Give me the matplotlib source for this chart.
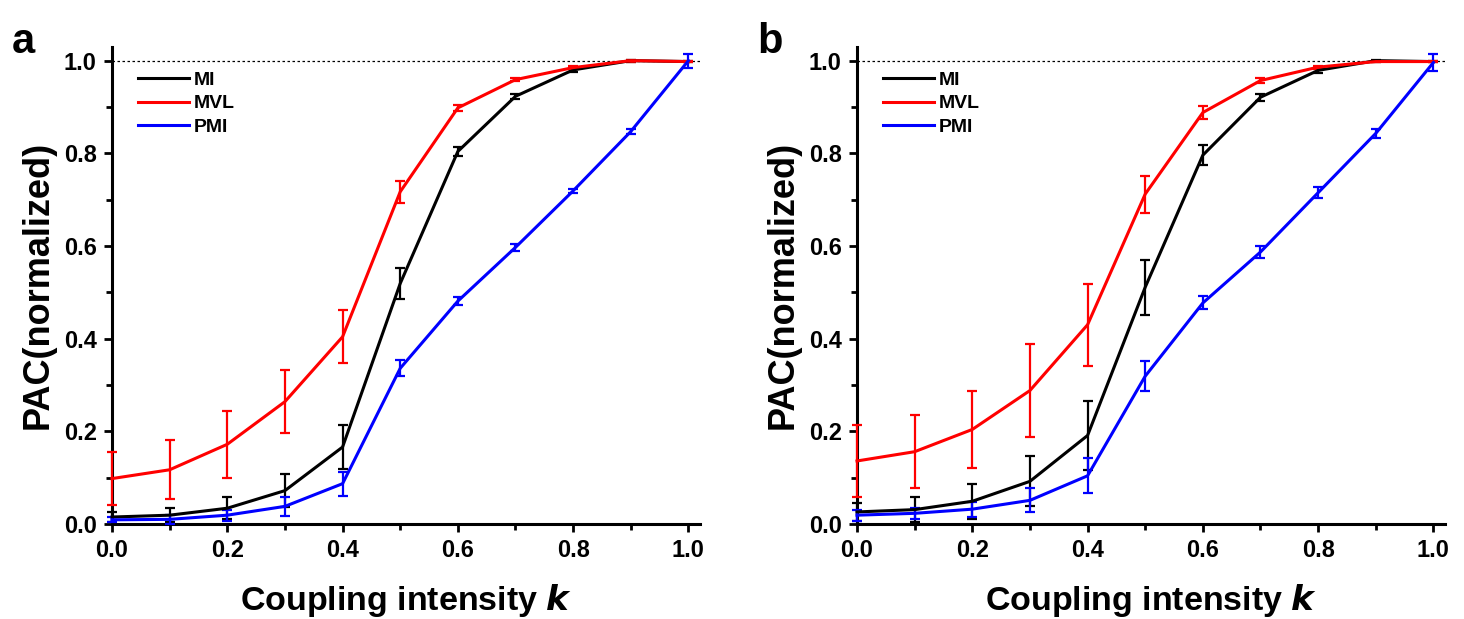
import numpy as np
import matplotlib
matplotlib.use("Agg")
import matplotlib.pyplot as plt
from matplotlib.lines import Line2D
from matplotlib.ticker import MultipleLocator

plt.rcParams['font.family'] = ['Liberation Sans', 'DejaVu Sans']
plt.rcParams['font.weight'] = 'bold'

# coupling intensity
k = [0.0, 0.1, 0.2, 0.3, 0.4, 0.5, 0.6, 0.7, 0.8, 0.9, 1.0]

# panel a
mi_a = [0.015, 0.019, 0.034, 0.072, 0.166, 0.519, 0.804, 0.923, 0.980, 1.000, 0.998]
mi_a_err = [0.010, 0.015, 0.024, 0.036, 0.048, 0.034, 0.010, 0.005, 0.005, 0.002, 0.002]
mvl_a = [0.098, 0.117, 0.172, 0.264, 0.404, 0.717, 0.898, 0.959, 0.985, 1.000, 0.998]
mvl_a_err = [0.057, 0.064, 0.072, 0.068, 0.057, 0.024, 0.007, 0.004, 0.003, 0.002, 0.002]
pmi_a = [0.009, 0.010, 0.019, 0.038, 0.087, 0.336, 0.481, 0.597, 0.719, 0.847, 1.000]
pmi_a_err = [0.005, 0.010, 0.012, 0.020, 0.026, 0.017, 0.008, 0.007, 0.005, 0.006, 0.015]

# panel b
mi_b = [0.026, 0.031, 0.049, 0.092, 0.191, 0.511, 0.796, 0.921, 0.979, 1.000, 0.998]
mi_b_err = [0.020, 0.027, 0.038, 0.054, 0.075, 0.059, 0.022, 0.008, 0.005, 0.002, 0.002]
mvl_b = [0.136, 0.156, 0.204, 0.288, 0.430, 0.712, 0.888, 0.957, 0.986, 0.998, 0.998]
mvl_b_err = [0.077, 0.079, 0.083, 0.100, 0.088, 0.040, 0.014, 0.005, 0.003, 0.002, 0.002]
pmi_b = [0.019, 0.023, 0.032, 0.051, 0.104, 0.319, 0.477, 0.587, 0.715, 0.843, 0.996]
pmi_b_err = [0.012, 0.012, 0.016, 0.026, 0.038, 0.033, 0.014, 0.013, 0.012, 0.009, 0.018]

panels = [
    ('a', mi_a, mi_a_err, mvl_a, mvl_a_err, pmi_a, pmi_a_err),
    ('b', mi_b, mi_b_err, mvl_b, mvl_b_err, pmi_b, pmi_b_err),
]

fig = plt.figure(figsize=(14.64, 6.19), dpi=100)
lefts = [112 / 1464, 857 / 1464]

for left, (letter, mi, mi_e, mvl, mvl_e, pmi, pmi_e) in zip(lefts, panels):
    ax = fig.add_axes([left, 0.1535, 0.4016, 0.771])

    # dotted reference line at 1.0
    ax.axhline(1.0, color='black', lw=0.9, ls=(0, (2, 2)), zorder=1)

    handles = []
    for vals, errs, col, lab in [(mi, mi_e, 'black', 'MI'),
                                 (mvl, mvl_e, '#ff0000', 'MVL'),
                                 (pmi, pmi_e, '#0000ff', 'PMI')]:
        ax.errorbar(k, vals, yerr=errs, color=col, lw=2.2, elinewidth=1.6,
                    capsize=3.6, capthick=1.6, clip_on=False, zorder=3)
        handles.append(Line2D([], [], color=col, lw=2.2, label=lab))

    ax.set_xlim(0, 1.02)
    ax.set_ylim(0, 1.03)
    ax.xaxis.set_major_locator(MultipleLocator(0.2))
    ax.xaxis.set_minor_locator(MultipleLocator(0.1))
    ax.yaxis.set_major_locator(MultipleLocator(0.2))
    ax.yaxis.set_minor_locator(MultipleLocator(0.1))
    ax.xaxis.set_major_formatter(plt.FuncFormatter(lambda v, p: '%.1f' % v))
    ax.yaxis.set_major_formatter(plt.FuncFormatter(lambda v, p: '%.1f' % v))

    for s in ['top', 'right']:
        ax.spines[s].set_visible(False)
    for s in ['left', 'bottom']:
        ax.spines[s].set_linewidth(2.2)

    ax.tick_params(which='major', direction='out', length=6, width=2.0,
                   labelsize=17, pad=5)
    ax.tick_params(which='minor', direction='out', length=4, width=2.0)
    for t in ax.get_xticklabels() + ax.get_yticklabels():
        t.set_fontweight('bold')

    ax.set_xlabel('Coupling intensity $\\boldsymbol{k}$', fontsize=24.5,
                  fontweight='bold', labelpad=14)
    ax.set_ylabel('PAC(normalized)', fontsize=26, fontweight='bold', labelpad=6)

    leg = ax.legend(handles=handles, loc='upper left', bbox_to_anchor=(0.015, 0.985),
                    frameon=False, fontsize=14, handlelength=2.6,
                    handletextpad=0.25, labelspacing=0.3)
    for t in leg.get_texts():
        t.set_fontweight('bold')

    fig.text(left - 100 / 1464, 0.965, letter, fontsize=30, fontweight='bold',
             va='top', ha='left')

fig.savefig('out.png', dpi=100)
